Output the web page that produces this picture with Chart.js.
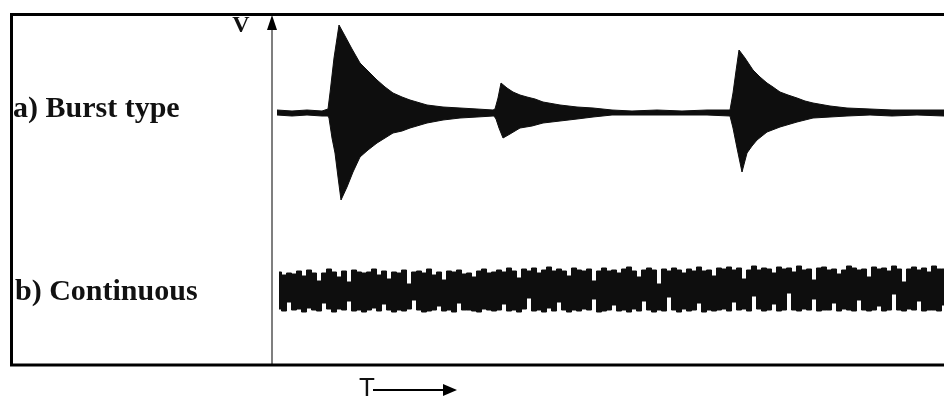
<!DOCTYPE html>
<html>
<head>
<meta charset="utf-8">
<script src="https://cdn.jsdelivr.net/npm/chart.js@4.4.1/dist/chart.umd.min.js"></script>
<style>
  html, body { margin: 0; padding: 0; background: #ffffff; }
  #wrap { width: 944px; height: 396px; position: relative; }
</style>
</head>
<body>
<div id="wrap"><canvas id="c" width="944" height="396"></canvas></div>
<script>
// ---- data (time in arbitrary samples from the V axis, amplitude in arbitrary mV) ----
const rowLabels = ["a) Burst type", "b) Continuous"];
const axisLabelV = "V";
const axisLabelT = "T";

// burst-type signal: upper envelope
const burstUpperT = [5, 20, 35, 50, 56, 58, 62, 67, 73, 80, 88, 96, 105, 113, 121, 130, 138, 155, 171, 188,
  205, 221, 223, 226, 229, 235, 241, 248, 255, 263, 271, 288, 305, 321, 340, 360, 385, 410, 435, 458,
  461, 464, 467, 473, 481, 488, 495, 501, 508, 516, 525, 533, 541, 558, 575, 598, 620, 645, 672];
const burstUpperV = [3, 2, 3, 2, 4, 20, 55, 88, 77, 64, 50, 42, 33, 26, 20, 16, 13, 8, 6, 5,
  4, 3, 4, 15, 30, 25, 21, 18, 16, 14, 11, 8, 6, 5, 3, 2, 3, 2, 3, 3,
  20, 42, 63, 55, 43, 36, 30, 26, 21, 18, 15, 12, 10, 7, 5, 4, 3, 3, 3];

// burst-type signal: lower envelope
const burstLowerT = [5, 20, 35, 50, 56, 57, 60, 63, 66, 69, 75, 81, 88, 96, 105, 113, 121, 130, 138, 155,
  171, 188, 205, 221, 222, 224, 227, 231, 238, 248, 260, 271, 288, 305, 321, 340, 360, 385, 410, 435,
  458, 461, 465, 470, 475, 480, 485, 495, 508, 525, 541, 558, 575, 598, 620, 645, 672];
const burstLowerV = [-2, -3, -2, -3, -3, -5, -25, -40, -64, -87, -74, -59, -44, -37, -30, -25, -20, -18, -15, -10,
  -7, -5, -4, -3, -3, -6, -15, -25, -21, -15, -13, -10, -8, -6, -4, -2, -2, -2, -2, -2,
  -3, -15, -35, -59, -40, -33, -27, -19, -14, -9, -5, -4, -3, -2, -3, -2, -3];

// continuous signal: sample times of the envelope readings
const contT = [7, 12, 17, 22, 27, 32, 37, 42, 47, 52,
  57, 62, 67, 72, 77, 82, 87, 92, 97, 102,
  107, 112, 117, 122, 127, 132, 137, 142, 147, 152,
  157, 162, 167, 172, 177, 182, 187, 192, 197, 202,
  207, 212, 217, 222, 227, 232, 237, 242, 247, 252,
  257, 262, 267, 272, 277, 282, 287, 292, 297, 302,
  307, 312, 317, 322, 327, 332, 337, 342, 347, 352,
  357, 362, 367, 372, 377, 382, 387, 392, 397, 402,
  407, 412, 417, 422, 427, 432, 437, 442, 447, 452,
  457, 462, 467, 472, 477, 482, 487, 492, 497, 502,
  507, 512, 517, 522, 527, 532, 537, 542, 547, 552,
  557, 562, 567, 572, 577, 582, 587, 592, 597, 602,
  607, 612, 617, 622, 627, 632, 637, 642, 647, 652,
  657, 662, 667, 672];
// continuous signal: upper envelope
const contUpperV = [18, 15, 17, 16, 19, 14, 20, 17, 9, 17, 21, 18, 13, 19, 8, 20, 18, 17, 18, 21,
  15, 19, 11, 18, 17, 20, 6, 18, 19, 17, 21, 15, 18, 10, 19, 18, 20, 16, 17, 13,
  19, 21, 17, 18,
  20, 18, 22, 19, 12, 21, 19, 22, 17, 20, 23, 19, 21, 19, 14, 22, 20, 19, 21, 9,
  19, 22, 19, 20, 17, 21, 23, 19, 13, 20, 22, 20, 6, 21, 19, 22, 20, 17, 21, 19,
  23, 19, 20, 14, 22,
  21, 23, 20, 22, 11, 20, 24, 20, 22, 21, 17, 23, 21, 22, 18, 24, 20, 21, 10, 22,
  23, 20, 21, 16, 20, 24, 22, 20, 21, 13, 23, 21, 22, 19, 24, 21, 8, 21, 23, 20,
  22, 18, 24, 21, 21];
// continuous signal: lower envelope
const contLowerV = [-19, -21, -12, -20, -19, -22, -18, -20, -21, -13, -19, -22, -19, -20, -11, -21, -20, -22, -20, -18,
  -21, -14, -20, -22, -20, -21, -19, -10, -20, -22, -21, -20, -16, -21, -20, -22, -13, -20, -20, -21,
  -22, -19, -20, -21,
  -20, -14, -21, -20, -22, -19, -8, -21, -20, -22, -18, -21, -12, -20, -22, -20, -21, -19, -20, -9,
  -22, -21, -20, -15, -21, -20, -22, -19, -21, -11, -20, -22, -20, -21, -7, -20, -22, -19, -21, -20,
  -13, -22, -20, -21, -20,
  -19, -21, -12, -20, -19, -21, -6, -19, -21, -20, -14, -21, -20, -3, -20, -21, -19, -20, -9, -21,
  -20, -20, -13, -21, -19, -20, -21, -10, -20, -21, -20, -16, -21, -20, -4, -20, -21, -19, -20, -11,
  -21, -20, -20, -21, -15];

// ---- build ----
const pts = (ts, vs) => ts.map((t, i) => ({ x: t, y: vs[i] }));
const INK = '#0e0e0e';

const baseDs = {
  borderColor: INK, backgroundColor: INK, borderWidth: 1,
  pointRadius: 0, tension: 0, fill: 'origin'
};

const decor = {
  id: 'decor',
  beforeDraw(chart) {
    const ctx = chart.ctx;
    ctx.save();
    ctx.fillStyle = '#ffffff';
    ctx.fillRect(0, 0, chart.width, chart.height);
    ctx.restore();
  },
  afterDraw(chart) {
    const ctx = chart.ctx;
    const ax = chart.scales.x.getPixelForValue(0);
    const top = chart.chartArea.top;
    const bottom = chart.chartArea.bottom;
    ctx.save();
    // V axis line
    ctx.strokeStyle = '#555555';
    ctx.lineWidth = 1.5;
    ctx.beginPath();
    ctx.moveTo(ax, top + 10);
    ctx.lineTo(ax, bottom);
    ctx.stroke();
    // arrow head
    ctx.fillStyle = '#000000';
    ctx.beginPath();
    ctx.moveTo(ax, top);
    ctx.lineTo(ax - 5, top + 15);
    ctx.lineTo(ax + 5, top + 15);
    ctx.closePath();
    ctx.fill();
    // frame
    ctx.strokeStyle = '#000000';
    ctx.lineWidth = 3;
    ctx.strokeRect(11.5, 14.5, 960, 350.5);
    // texts
    ctx.fillStyle = '#111111';
    ctx.textBaseline = 'alphabetic';
    ctx.font = 'bold 24px "Liberation Serif", "DejaVu Serif", serif';
    ctx.textAlign = 'center';
    ctx.fillText(axisLabelV, 241, 32);
    ctx.textAlign = 'left';
    ctx.font = 'bold 30px "Liberation Serif", "DejaVu Serif", serif';
    ctx.fillText(rowLabels[0], 13, 117);
    ctx.fillText(rowLabels[1], 15, 300);
    ctx.font = '26px "Liberation Sans", Arial, sans-serif';
    ctx.fillText(axisLabelT, 359, 396);
    // T arrow
    ctx.strokeStyle = '#000000';
    ctx.lineWidth = 2;
    ctx.beginPath();
    ctx.moveTo(373, 390);
    ctx.lineTo(445, 390);
    ctx.stroke();
    ctx.fillStyle = '#000000';
    ctx.beginPath();
    ctx.moveTo(457, 390);
    ctx.lineTo(443, 384);
    ctx.lineTo(443, 396);
    ctx.closePath();
    ctx.fill();
    ctx.restore();
  }
};

new Chart(document.getElementById('c'), {
  type: 'line',
  data: {
    datasets: [
      Object.assign({}, baseDs, { label: 'burst+', data: pts(burstUpperT, burstUpperV), yAxisID: 'yA' }),
      Object.assign({}, baseDs, { label: 'burst-', data: pts(burstLowerT, burstLowerV), yAxisID: 'yA' }),
      Object.assign({}, baseDs, { label: 'cont+', data: pts(contT, contUpperV), yAxisID: 'yB', stepped: 'middle' }),
      Object.assign({}, baseDs, { label: 'cont-', data: pts(contT, contLowerV), yAxisID: 'yB', stepped: 'middle' })
    ]
  },
  options: {
    responsive: false,
    animation: false,
    devicePixelRatio: 1,
    layout: { padding: { left: 272, right: 0, top: 15, bottom: 31 } },
    plugins: { legend: { display: false }, tooltip: { enabled: false }, title: { display: false } },
    scales: {
      x: { type: 'linear', min: 0, max: 672, display: false },
      yA: { type: 'linear', min: -252, max: 98, display: false },
      yB: { type: 'linear', min: -75, max: 275, display: false }
    }
  },
  plugins: [decor]
});
</script>
</body>
</html>
